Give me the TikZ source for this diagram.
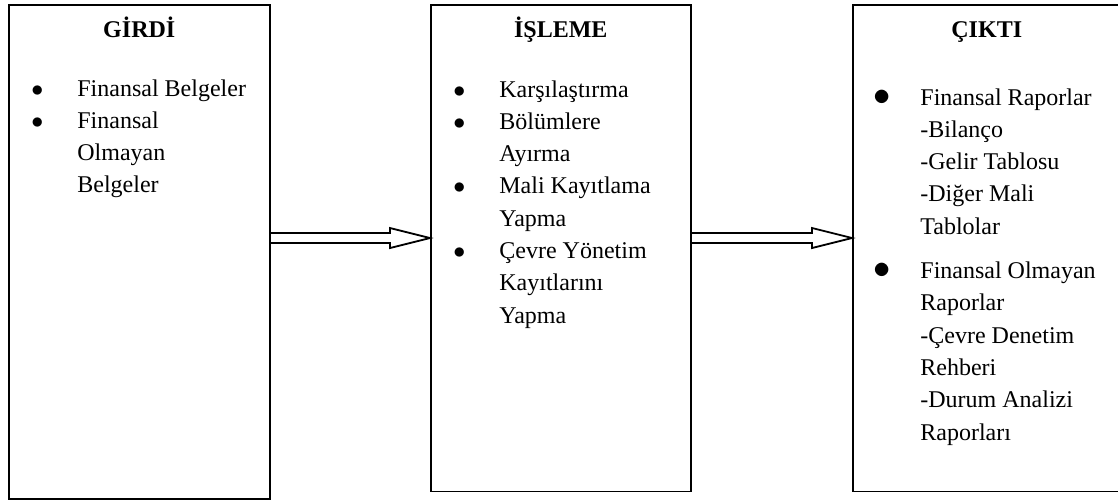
\documentclass[tikz,border=0pt]{standalone}
\usepackage{fontspec}
\setmainfont{Liberation Serif}
\usetikzlibrary{calc}

\newcommand{\madde}{$\bullet$}
\newcommand{\buyukmadde}{{\fontsize{17}{17}\selectfont$\bullet$}}

\tikzset{
  kutu/.style={draw, line width=0.75pt, inner sep=0pt, anchor=north west},
  baslik/.style={font=\bfseries\fontsize{12}{14}\selectfont, inner sep=0pt, anchor=base},
  liste/.style={font=\fontsize{12}{16.15}\selectfont, inner sep=0pt, anchor=base west},
  okyol/.style={line width=0.9pt, line join=miter}
}

\begin{document}
\begin{tikzpicture}[x=0.5pt,y=-0.5pt]
\useasboundingbox (0,0) rectangle (1118,500);

% Kutular
\node[kutu, minimum width=130.5pt, minimum height=247pt] (girdi) at (8,4) {};
\node[kutu, minimum width=130pt, minimum height=243.3pt] (isleme) at (430,4) {};
\node[kutu, minimum width=134pt, minimum height=243.3pt] (cikti) at (852,4) {};

% Basliklar
\node[baslik] (girdibaslik) at (girdi.north |- 0,37) {GİRDİ};
\node[baslik] (islemebaslik) at (isleme.north |- 0,37) {İŞLEME};
\node[baslik] (ciktibaslik) at (cikti.north |- 0,37) {ÇIKTI};

% Listeler
\node[liste] (girdiliste) at (31,96) {%
  \begin{tabular}[t]{@{}p{23pt}@{}l@{}}
  \madde & Finansal Belgeler\\
  \madde & Finansal\\
         & Olmayan\\
         & Belgeler
  \end{tabular}};

\node[liste] (islemeliste) at (453,97) {%
  \begin{tabular}[t]{@{}p{23pt}@{}l@{}}
  \madde & Karşılaştırma\\
  \madde & Bölümlere\\
         & Ayırma\\
  \madde & Mali Kayıtlama\\
         & Yapma\\
  \madde & Çevre Yönetim\\
         & Kayıtlarını\\
         & Yapma
  \end{tabular}};

\node[liste] (ciktiliste) at (873,105) {%
  \begin{tabular}[t]{@{}p{23.5pt}@{}l@{}}
  \buyukmadde & Finansal Raporlar\\
              & -Bilanço\\
              & -Gelir Tablosu\\
              & -Diğer Mali\\
              & Tablolar\\[6pt]
  \buyukmadde & Finansal Olmayan\\
              & Raporlar\\
              & -Çevre Denetim\\
              & Rehberi\\
              & -Durum Analizi\\
              & Raporları
  \end{tabular}};

% Oklar
\foreach \a/\b in {girdi/isleme, isleme/cikti}
  \draw[okyol] (\a.east |- 0,233) -- ($(\b.west |- 0,233)+(-40,0)$) -- ++(0,-5)
    -- (\b.west |- 0,238) -- ++(-40,10) -- ++(0,-5) -- (\a.east |- 0,243);

\end{tikzpicture}
\end{document}
